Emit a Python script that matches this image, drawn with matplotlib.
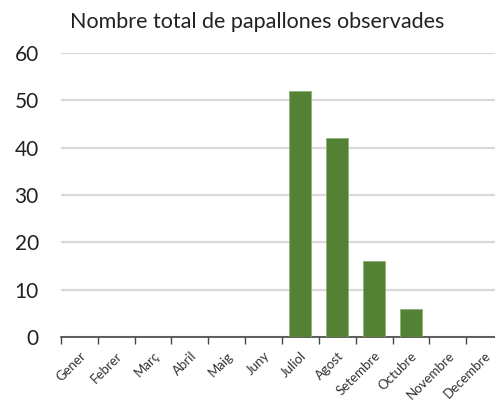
import matplotlib
matplotlib.use("Agg")
import matplotlib.pyplot as plt

# ---------------- DATA ----------------
months = ["Gener", "Febrer", "Març", "Abril", "Maig", "Juny",
          "Juliol", "Agost", "Setembre", "Octubre", "Novembre", "Decembre"]
counts = [0, 0, 0, 0, 0, 0, 52, 42, 16, 6, 0, 0]
yticks = [0, 10, 20, 30, 40, 50, 60]

plt.rcParams["font.family"] = ["Lato", "DejaVu Sans"]

fig = plt.figure(figsize=(4.95, 4.01), dpi=100)
ax = fig.add_axes([61 / 495, 64 / 401, 442 / 495, 284 / 401])

ax.bar(range(len(months)), counts, width=0.6, color="#548235",
       edgecolor="#8fb07a", linewidth=0.6, zorder=3)

ax.set_xlim(-0.5, len(months) - 0.5)
ax.set_ylim(0, 60)
ax.set_yticks(yticks)
ax.yaxis.grid(True, color="#d9d9d9", linewidth=1.6, zorder=0)
ax.tick_params(axis="y", length=0, labelsize=15, pad=16, labelcolor="#222222")

# month ticks sit between categories, labels under each bar slot
ax.set_xticks([i - 0.5 for i in range(len(months) + 1)])
ax.set_xticklabels([])
ax.set_xticks(range(len(months)), minor=True)
ax.set_xticklabels(months, minor=True, rotation=45, ha="right",
                   rotation_mode="anchor", fontsize=9.5, color="#333333")
ax.tick_params(axis="x", which="major", length=5, color="#444444", width=1)
ax.tick_params(axis="x", which="minor", length=0, pad=9)

for side in ["top", "right", "left"]:
    ax.spines[side].set_visible(False)
ax.spines["bottom"].set_color("#444444")
ax.spines["bottom"].set_linewidth(1.2)

fig.text(0.52, 0.945, "Nombre total de papallones observades",
         ha="center", va="center", fontsize=15.5, color="#222222")

fig.savefig("out.png", dpi=100)
